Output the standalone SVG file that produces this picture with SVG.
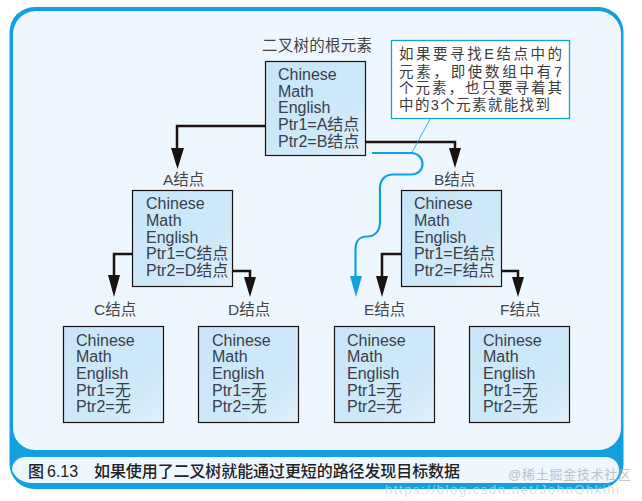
<svg xmlns="http://www.w3.org/2000/svg" width="642" height="501" viewBox="0 0 642 501">
<style>
text{font-family:"Liberation Sans","Noto Sans CJK SC",sans-serif;fill:#3a3a3a}
.n{font-size:16px;fill:#39404c}
.l{font-size:15.500px;fill:#444}
.t{font-size:14.500px;fill:#3c3c3c}
.box{fill:url(#g);stroke:#1a1311;stroke-width:1.2}
.c{fill:none;stroke:#1a1311;stroke-width:2.5}
.b{fill:none;stroke:#12a0e0;stroke-width:2.2}
.h{fill:#1a1311}
.cap{font-size:16px;font-weight:500;fill:#222}
</style>
<defs>
<linearGradient id="g" x1="0" y1="0" x2="1" y2="1"><stop offset="0" stop-color="#c8e5f7"/><stop offset="0.7" stop-color="#cfe9f9"/><stop offset="1" stop-color="#e0f1fc"/></linearGradient>
</defs>
<rect width="642" height="501" fill="#fff"/>
<g id="frame">
<rect x="9.500" y="7" width="614" height="482" rx="25" fill="#12a0e0"/>
<path d="M13 34a23 23 0 0 1 23-23H598a23 23 0 0 1 23 23V428a22 22 0 0 1-22 22H35a22 22 0 0 1-22-22Z" fill="#eef7fe"/>
<path d="M12 470a13 13 0 0 1 13-13H606a13 13 0 0 1 13 13V472a12 12 0 0 1-12 11H32a20 20 0 0 1-20-13Z" fill="#eef7fe"/>
<text class="cap" x="28" y="477">图</text>
<text class="cap" x="47" y="477">6.13</text>
<text class="cap" x="94" y="477" textLength="366">如果使用了二叉树就能通过更短的路径发现目标数据</text>
</g>
<g id="connectors">
<path class="c" d="M274 126H177V151"/><path class="h" d="M171 148H184L177.500 169Z"/>
<path class="c" d="M360 142H455V150"/><path class="h" d="M449 148H461L455 168Z"/>
<path class="c" d="M140 254H114V280"/><path class="h" d="M108 275H120L114 297Z"/>
<path class="c" d="M227 271H250V282"/><path class="h" d="M244 277H256L250 297Z"/>
<path class="c" d="M407 254H382V280"/><path class="h" d="M376 276H388L382 297Z"/>
<path class="c" d="M494 271H518V282"/><path class="h" d="M512 277H524L518 297Z"/>
<path class="b" d="M372 153H411C418 153 422.500 158 422.500 164C422.500 170 418 174.500 411 174.500H393C385 174.500 380 180 380 188V222C380 231 375 236.500 367 236.500C360 236.500 355.500 241 355.500 249V280"/>
<path d="M350 276H362L356 297Z" fill="#12a0e0"/>
<path d="M430.700 118L411.700 153" fill="none" stroke="#12a0e0" stroke-width="0.8"/>
</g>
<g id="callout">
<rect x="391.500" y="40.500" width="178" height="78" fill="#fff" stroke="#12a0e0" stroke-width="1.3"/>
<text class="t" x="399" y="59" textLength="163">如果要寻找E结点中的</text>
<text class="t" x="399" y="77" textLength="163">元素，即使数组中有7</text>
<text class="t" x="399" y="93" textLength="163">个元素，也只要寻着其</text>
<text class="t" x="399" y="110" textLength="151">中的3个元素就能找到</text>
</g>
<g id="root">
<text class="l" x="262" y="51" textLength="110">二叉树的根元素</text>
<rect class="box" x="265.500" y="61.500" width="100" height="94"/>
<text class="n" x="278" y="80">Chinese</text><text class="n" x="278" y="97">Math</text><text class="n" x="278" y="113">English</text><text class="n" x="278" y="130">Ptr1=A结点</text><text class="n" x="278" y="147">Ptr2=B结点</text>
</g>
<g id="nodeA">
<text class="l" x="163" y="185">A结点</text>
<rect class="box" x="132.500" y="190.500" width="100" height="96"/>
<text class="n" x="146" y="209">Chinese</text><text class="n" x="146" y="226">Math</text><text class="n" x="146" y="243">English</text><text class="n" x="146" y="259">Ptr1=C结点</text><text class="n" x="146" y="276">Ptr2=D结点</text>
</g>
<g id="nodeB">
<text class="l" x="434" y="185">B结点</text>
<rect class="box" x="401.500" y="190.500" width="100" height="96"/>
<text class="n" x="414" y="209">Chinese</text><text class="n" x="414" y="226">Math</text><text class="n" x="414" y="243">English</text><text class="n" x="414" y="259">Ptr1=E结点</text><text class="n" x="414" y="276">Ptr2=F结点</text>
</g>
<g id="nodeC">
<text class="l" x="94" y="315">C结点</text>
<rect class="box" x="63.500" y="326.500" width="100" height="96"/>
<text class="n" x="76" y="346">Chinese</text><text class="n" x="76" y="362">Math</text><text class="n" x="76" y="379">English</text><text class="n" x="76" y="396">Ptr1=无</text><text class="n" x="76" y="412">Ptr2=无</text>
</g>
<g id="nodeD">
<text class="l" x="228" y="315">D结点</text>
<rect class="box" x="198.500" y="326.500" width="100" height="96"/>
<text class="n" x="212" y="346">Chinese</text><text class="n" x="212" y="362">Math</text><text class="n" x="212" y="379">English</text><text class="n" x="212" y="396">Ptr1=无</text><text class="n" x="212" y="412">Ptr2=无</text>
</g>
<g id="nodeE">
<text class="l" x="364" y="315">E结点</text>
<rect class="box" x="334.500" y="326.500" width="100" height="96"/>
<text class="n" x="347" y="346">Chinese</text><text class="n" x="347" y="362">Math</text><text class="n" x="347" y="379">English</text><text class="n" x="347" y="396">Ptr1=无</text><text class="n" x="347" y="412">Ptr2=无</text>
</g>
<g id="nodeF">
<text class="l" x="500" y="315">F结点</text>
<rect class="box" x="469.500" y="326.500" width="100" height="96"/>
<text class="n" x="483" y="346">Chinese</text><text class="n" x="483" y="362">Math</text><text class="n" x="483" y="379">English</text><text class="n" x="483" y="396">Ptr1=无</text><text class="n" x="483" y="412">Ptr2=无</text>
</g>
<g id="watermark">
<text x="385" y="494" textLength="234" style="font-size:13px;fill:#c9d6e0;opacity:.75">https://blog.csdn.net/JohnOhkihi</text>
<text x="508" y="479" textLength="123" style="font-size:13px;fill:#a8aeb4;opacity:.7">@稀土掘金技术社区</text>
</g>
</svg>
